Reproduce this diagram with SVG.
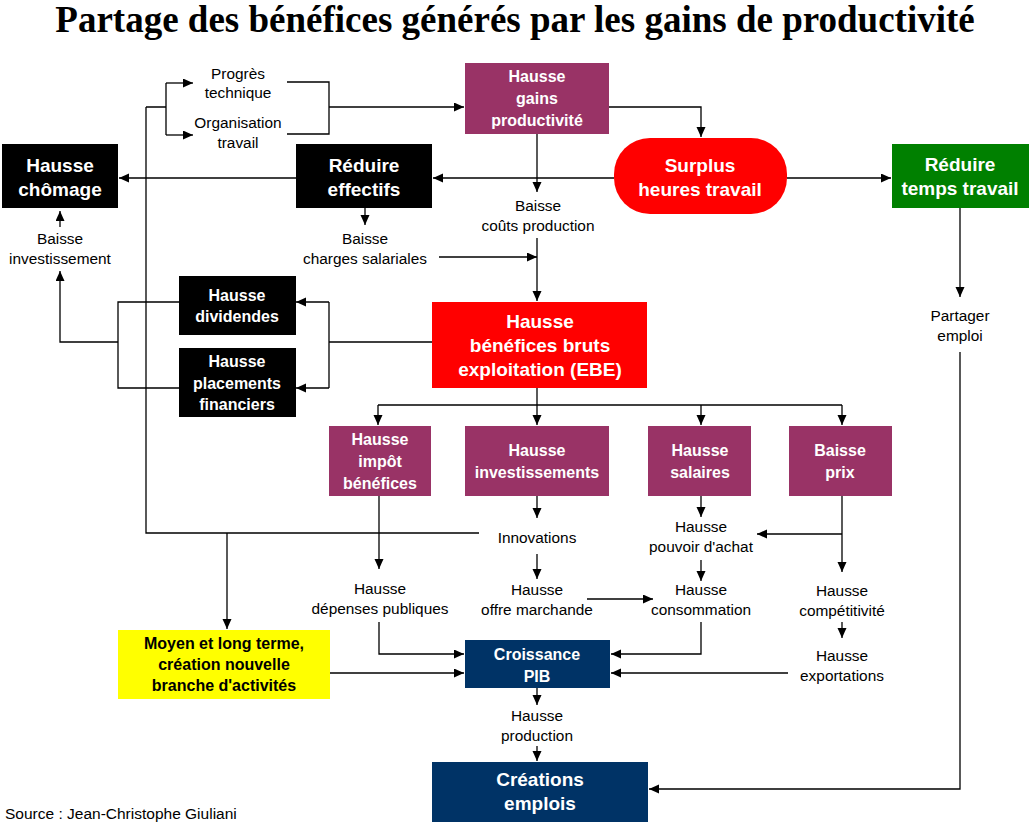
<svg xmlns="http://www.w3.org/2000/svg" width="1030" height="830" viewBox="0 0 1030 830">
<defs>
<marker id="ah" markerUnits="userSpaceOnUse" markerWidth="11" markerHeight="10" refX="10" refY="4.5" orient="auto">
<path d="M0,0 L10,4.5 L0,9 z" fill="#000"/>
</marker>
<style>
.t{font-family:"Liberation Sans",Arial,sans-serif;font-size:15.4px;fill:#000;text-anchor:middle}
.b{font-family:"Liberation Sans",Arial,sans-serif;font-weight:bold;fill:#fff;text-anchor:middle}
.big{font-size:19px}
.sm{font-size:16px}
.bk{fill:#000}
.purple{fill:#993366}
.black{fill:#000}
.navy{fill:#003366}
.red{fill:#ff0000}
.green{fill:#008000}
.yellow{fill:#ffff00}
.c path{fill:none;stroke:#000;stroke-width:1.3}
.c path.a{marker-end:url(#ah)}
</style>
</defs>
<rect width="1030" height="830" fill="#fff"/>
<text x="515" y="32" style="font-family:'Liberation Serif','Times New Roman',serif;font-weight:bold;font-size:37px;text-anchor:middle">Partage des bénéfices générés par les gains de productivité</text>

<g class="c" id="connectors">
<path d="M146,107 H166 M166,83 V135"/>
<path class="a" d="M166,83 H193"/>
<path class="a" d="M166,135 H193"/>
<path d="M287,82 H329 V134 H287"/>
<path class="a" d="M329,107 H464"/>
<path class="a" d="M609,107 H701 V137"/>
<path class="a" d="M537,134 V192"/>
<path class="a" d="M614,178 H433"/>
<path class="a" d="M296,178 H119"/>
<path class="a" d="M787,178 H891"/>
<path class="a" d="M365,208 V225"/>
<path class="a" d="M439,257 H537"/>
<path class="a" d="M537,238 V301"/>
<path class="a" d="M60,227 V211"/>
<path d="M179,302 H118 V388 H179"/>
<path class="a" d="M118,342 H60 V271"/>
<path d="M432,342 H329 M329,302 V388"/>
<path class="a" d="M329,302 H296"/>
<path class="a" d="M329,388 H296"/>
<path class="a" d="M537,388 V425"/>
<path d="M378,405 H842"/>
<path class="a" d="M378,405 V425"/>
<path class="a" d="M701,405 V425"/>
<path class="a" d="M842,405 V425"/>
<path d="M146,107 V533 H479"/>
<path class="a" d="M227,533 V629"/>
<path class="a" d="M537,496 V518"/>
<path class="a" d="M379,496 V569"/>
<path class="a" d="M537,554 V579"/>
<path class="a" d="M701,496 V517"/>
<path class="a" d="M842,496 V572"/>
<path class="a" d="M842,534 H757"/>
<path class="a" d="M701,560 V581"/>
<path class="a" d="M587,599 H653"/>
<path class="a" d="M842,622 V638"/>
<path class="a" d="M379,622 V654 H464"/>
<path class="a" d="M330,673 H464"/>
<path class="a" d="M701,622 V654 H611"/>
<path class="a" d="M788,673 H611"/>
<path class="a" d="M537,688 V705"/>
<path class="a" d="M537,746 V761"/>
<path class="a" d="M960,208 V297"/>
<path class="a" d="M960,352 V789 H649"/>
</g>

<g id="progres"><text class="t" x="238" y="79">Progrès</text><text class="t" x="238" y="98">technique</text></g>
<g id="organisation"><text class="t" x="238" y="128">Organisation</text><text class="t" x="238" y="148">travail</text></g>

<g id="gains"><rect class="purple" x="465" y="63" width="144" height="71"/>
<text class="b sm" x="537" y="82">Hausse</text><text class="b sm" x="537" y="104">gains</text><text class="b sm" x="537" y="126">productivité</text></g>

<g id="surplus"><rect class="red" x="614" y="138" width="173" height="76" rx="36" ry="36"/>
<text class="b big" x="700" y="172">Surplus</text><text class="b big" x="700" y="196">heures travail</text></g>

<g id="chomage"><rect class="black" x="2" y="144" width="116" height="64"/>
<text class="b big" x="60" y="172">Hausse</text><text class="b big" x="60" y="196">chômage</text></g>

<g id="effectifs"><rect class="black" x="296" y="144" width="136" height="64"/>
<text class="b big" x="364" y="172">Réduire</text><text class="b big" x="364" y="196">effectifs</text></g>

<g id="tempstravail"><rect class="green" x="892" y="144" width="137" height="64"/>
<text class="b big" x="960" y="171">Réduire</text><text class="b big" x="960" y="195">temps travail</text></g>

<g id="baisseinv"><text class="t" x="60" y="244">Baisse</text><text class="t" x="60" y="264">investissement</text></g>
<g id="charges"><text class="t" x="365" y="244">Baisse</text><text class="t" x="365" y="264">charges salariales</text></g>
<g id="couts"><text class="t" x="538" y="211">Baisse</text><text class="t" x="538" y="231">coûts production</text></g>
<g id="partager"><text class="t" x="960" y="321">Partager</text><text class="t" x="960" y="341">emploi</text></g>

<g id="dividendes"><rect class="black" x="179" y="276" width="117" height="59"/>
<text class="b sm" x="237" y="301">Hausse</text><text class="b sm" x="237" y="322">dividendes</text></g>

<g id="placements"><rect class="black" x="179" y="348" width="117" height="69"/>
<text class="b sm" x="237" y="367">Hausse</text><text class="b sm" x="237" y="389">placements</text><text class="b sm" x="237" y="410">financiers</text></g>

<g id="ebe"><rect class="red" x="432" y="302" width="215" height="86"/>
<text class="b big" x="540" y="328">Hausse</text><text class="b big" x="540" y="352">bénéfices bruts</text><text class="b big" x="540" y="376">exploitation (EBE)</text></g>

<g id="impot"><rect class="purple" x="329" y="426" width="102" height="70"/>
<text class="b sm" x="380" y="445">Hausse</text><text class="b sm" x="380" y="467">impôt</text><text class="b sm" x="380" y="489">bénéfices</text></g>

<g id="investissements"><rect class="purple" x="465" y="426" width="144" height="70"/>
<text class="b sm" x="537" y="456">Hausse</text><text class="b sm" x="537" y="478">investissements</text></g>

<g id="salaires"><rect class="purple" x="648" y="426" width="103" height="70"/>
<text class="b sm" x="700" y="456">Hausse</text><text class="b sm" x="700" y="478">salaires</text></g>

<g id="prix"><rect class="purple" x="789" y="426" width="103" height="70"/>
<text class="b sm" x="840" y="456">Baisse</text><text class="b sm" x="840" y="478">prix</text></g>

<g id="innovations"><text class="t" x="537" y="543">Innovations</text></g>
<g id="pouvoir"><text class="t" x="701" y="532">Hausse</text><text class="t" x="701" y="552">pouvoir d'achat</text></g>
<g id="depenses"><text class="t" x="380" y="594">Hausse</text><text class="t" x="380" y="614">dépenses publiques</text></g>
<g id="offre"><text class="t" x="537" y="595">Hausse</text><text class="t" x="537" y="615">offre marchande</text></g>
<g id="consommation"><text class="t" x="701" y="595">Hausse</text><text class="t" x="701" y="615">consommation</text></g>
<g id="competitivite"><text class="t" x="842" y="596">Hausse</text><text class="t" x="842" y="616">compétitivité</text></g>
<g id="exportations"><text class="t" x="842" y="661">Hausse</text><text class="t" x="842" y="681">exportations</text></g>

<g id="moyenterme"><rect class="yellow" x="118" y="630" width="212" height="69"/>
<text class="b sm bk" x="224" y="649">Moyen et long terme,</text><text class="b sm bk" x="224" y="670">création nouvelle</text><text class="b sm bk" x="224" y="691">branche d'activités</text></g>

<g id="pib"><rect class="navy" x="465" y="640" width="145" height="48"/>
<text class="b sm" x="537" y="660">Croissance</text><text class="b sm" x="537" y="682">PIB</text></g>

<g id="production"><text class="t" x="537" y="721">Hausse</text><text class="t" x="537" y="741">production</text></g>

<g id="creations"><rect class="navy" x="432" y="762" width="216" height="60"/>
<text class="b big" x="540" y="786">Créations</text><text class="b big" x="540" y="810">emplois</text></g>

<text x="5" y="819" style="font-family:'Liberation Sans',Arial,sans-serif;font-size:15.5px">Source : Jean-Christophe Giuliani</text>
</svg>
